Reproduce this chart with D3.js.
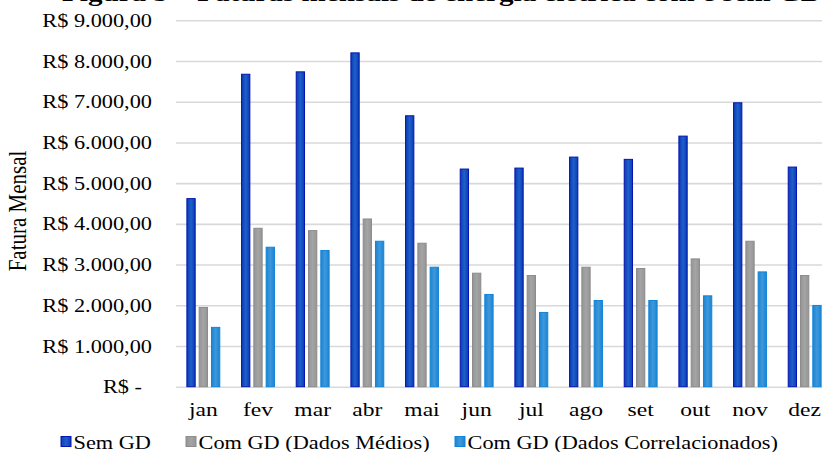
<!DOCTYPE html>
<html>
<head>
<meta charset="utf-8">
<script src="https://cdn.jsdelivr.net/npm/d3@7"></script>
<style>
  html, body { margin: 0; padding: 0; background: #fff; overflow: hidden; }
  text { font-family: "Liberation Serif", "Times New Roman", serif; fill: #000; }
</style>
</head>
<body>
<svg id="chart" width="822" height="452"></svg>
<script>
// Monthly electricity bills (R$) with and without distributed generation
const months = ["jan", "fev", "mar", "abr", "mai", "jun", "jul", "ago", "set", "out", "nov", "dez"];
const seriesNames = ["Sem GD", "Com GD (Dados Médios)", "Com GD (Dados Correlacionados)"];
const semGD       = [4620, 7675, 7734, 8200, 6655, 5346, 5370, 5640, 5584, 6155, 6974, 5395];
const comGDMedios = [1947, 3892, 3835, 4120, 3524, 2788, 2731, 2935, 2903, 3139, 3573, 2731];
const comGDCorrel = [1457, 3426, 3345, 3573, 2935, 2266, 1824, 2118, 2118, 2232, 2820, 1996];
const yTicks = [0, 1000, 2000, 3000, 4000, 5000, 6000, 7000, 8000, 9000];
const titleText = "Figura 5 – Faturas mensais de energia elétrica com e sem GD";
const yTitle = "Fatura Mensal";

const seriesValues = [semGD, comGDMedios, comGDCorrel];
const rows = months.map((m, i) => ({ month: m, values: seriesNames.map((s, k) => ({ key: s, k, value: seriesValues[k][i] })) }));

const SX = 1.24; // horizontal text stretch
const plotLeft = 176, plotRight = 832, plotTop = 20.3, plotBottom = 386.7;

const svg = d3.select("#chart");
const defs = svg.append("defs");

const palette = [
  { stroke: "#0614b0", edge: "#0b3ab6", mid: "#1e60c8" },
  { stroke: "#8c8c8c", edge: "#959595", mid: "#a4a4a4" },
  { stroke: "#1184d9", edge: "#1a84d4", mid: "#3f98da" }
];
palette.forEach((p, k) => {
  const g = defs.append("linearGradient").attr("id", "grad" + k)
    .attr("x1", "0").attr("x2", "1").attr("y1", "0").attr("y2", "0");
  g.append("stop").attr("offset", "0%").attr("stop-color", p.edge);
  g.append("stop").attr("offset", "50%").attr("stop-color", p.mid);
  g.append("stop").attr("offset", "100%").attr("stop-color", p.edge);
});

// Title (mostly above the visible area)
svg.append("text")
  .attr("transform", `translate(62,1) scale(${SX},1)`)
  .attr("font-size", 23.5).attr("font-weight", "bold")
  .text(titleText);

const x0 = d3.scaleBand().domain(months).range([plotLeft, plotRight]).paddingInner(0.38).paddingOuter(0.19);
const x1 = d3.scaleBand().domain(seriesNames).range([0, x0.bandwidth()]).paddingInner(0.244).paddingOuter(0);
const y = d3.scaleLinear().domain([0, 9000]).range([plotBottom, plotTop]);

const locale = d3.formatLocale({ decimal: ",", thousands: ".", grouping: [3], currency: ["R$ ", ""] });
const money = locale.format("$,.2f");
const fmt = v => v === 0 ? "R$ -" : money(v);

// Y axis with gridlines
const yAxis = svg.append("g").attr("transform", `translate(${plotLeft},0)`)
  .call(d3.axisLeft(y).tickValues(yTicks).tickSize(-(plotRight - plotLeft)).tickFormat(fmt));
yAxis.select(".domain").remove();
yAxis.selectAll(".tick line").attr("stroke", "#d9d9d9").attr("stroke-width", 1.6);
yAxis.selectAll(".tick text")
  .attr("x", 0).attr("dy", "0.34em")
  .attr("text-anchor", "end")
  .attr("font-size", 18)
  .attr("fill", "#000")
  .attr("transform", d => `translate(${d === 0 ? -34 : -24},0) scale(${SX},1)`);

// X axis labels
const xAxis = svg.append("g").attr("transform", `translate(0,${plotBottom})`)
  .call(d3.axisBottom(x0).tickSize(0));
xAxis.select(".domain").remove();
xAxis.selectAll(".tick text")
  .attr("y", 0).attr("dy", 0)
  .attr("font-size", 19)
  .attr("fill", "#000")
  .attr("transform", `translate(0,29.5) scale(${SX},1)`);

// Bars
const groups = svg.append("g").selectAll("g").data(rows).join("g")
  .attr("transform", d => `translate(${x0(d.month)},0)`);
groups.selectAll("rect").data(d => d.values).join("rect")
  .attr("x", d => x1(d.key) + 0.5)
  .attr("y", d => y(d.value))
  .attr("width", x1.bandwidth() - 1)
  .attr("height", d => y(0) - y(d.value))
  .attr("fill", d => `url(#grad${d.k})`)
  .attr("stroke", d => palette[d.k].stroke)
  .attr("stroke-width", 1);

// Y axis title
svg.append("text")
  .attr("transform", `translate(26,211) rotate(-90) scale(1,${SX})`)
  .attr("text-anchor", "middle")
  .attr("font-size", 21)
  .text(yTitle);

// Legend
const legendX = [61, 186, 455];
const legend = svg.append("g").selectAll("g").data(seriesNames).join("g")
  .attr("transform", (d, i) => `translate(${legendX[i]},0)`);
legend.append("rect")
  .attr("x", 0).attr("y", 436.5).attr("width", 10).attr("height", 10)
  .attr("fill", (d, i) => `url(#grad${i})`)
  .attr("stroke", (d, i) => palette[i].stroke).attr("stroke-width", 1);
legend.append("text")
  .attr("transform", `translate(12.5,449) scale(${SX},1)`)
  .attr("font-size", 18)
  .text(d => d);
</script>
</body>
</html>
